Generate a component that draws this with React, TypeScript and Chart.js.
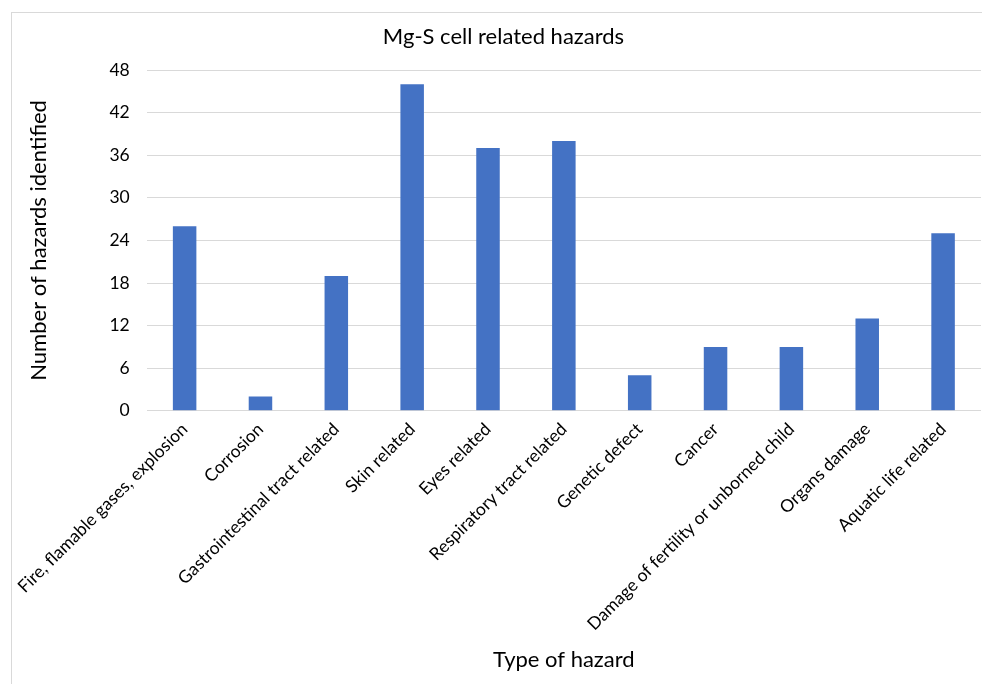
import React, { useEffect, useRef } from "react";
import { Chart, registerables } from "chart.js";

Chart.register(...registerables);

const categories = [
  "Fire, flamable gases, explosion",
  "Corrosion",
  "Gastrointestinal tract related",
  "Skin related",
  "Eyes related",
  "Respiratory tract related",
  "Genetic defect",
  "Cancer",
  "Damage of fertility or unborned child",
  "Organs damage",
  "Aquatic life related",
];
const hazardCounts = [26, 2, 19, 46, 37, 38, 5, 9, 9, 13, 25];
const yTicks = [0, 6, 12, 18, 24, 30, 36, 42, 48];

const FONT = "Lato, 'Liberation Sans', sans-serif";

export default function App() {
  const ref = useRef<HTMLCanvasElement | null>(null);
  useEffect(() => {
    if (!ref.current) return;
    const chart = new Chart(ref.current, {
      type: "bar",
      data: {
        labels: categories,
        datasets: [
          {
            label: "Hazards",
            data: hazardCounts,
            backgroundColor: "#4472C4",
            borderWidth: 0,
            categoryPercentage: 1,
            barPercentage: 0.31,
          },
        ],
      },
      options: {
        animation: false,
        responsive: false,
        maintainAspectRatio: false,
        layout: { padding: { left: 26, right: 27, top: 0, bottom: 11 } },
        plugins: {
          legend: { display: false },
          tooltip: { enabled: false },
          title: {
            display: true,
            text: "Mg-S cell related hazards",
            color: "#000",
            font: { family: FONT, size: 22, weight: "normal" },
            padding: { top: 24, bottom: 19.6 },
          },
        },
        scales: {
          x: {
            grid: { display: false, drawTicks: false },
            border: { display: false },
            ticks: {
              color: "#000",
              font: { family: FONT, size: 17.5 },
              maxRotation: 45,
              minRotation: 45,
              autoSkip: false,
              padding: 8,
            },
            title: {
              display: true,
              text: "Type of hazard",
              color: "#000",
              font: { family: FONT, size: 22 },
              padding: { top: 4, bottom: 0 },
            },
          },
          y: {
            min: 0,
            max: 48,
            afterBuildTicks: (axis: any) => {
              axis.ticks = yTicks.map((v) => ({ value: v }));
            },
            grid: { color: "#d9d9d9", lineWidth: 1, drawTicks: false },
            border: { display: false },
            ticks: {
              color: "#000",
              font: { family: FONT, size: 17.5 },
              padding: 17,
            },
            title: {
              display: true,
              text: "Number of hazards identified",
              color: "#000",
              font: { family: FONT, size: 22 },
              padding: { top: 0, bottom: 40 },
            },
          },
        },
      },
    });
    return () => chart.destroy();
  }, []);
  return (
    <div
      style={{
        position: "fixed",
        left: 0,
        top: 0,
        width: 982,
        height: 684,
        overflow: "hidden",
        background: "#fff",
      }}
    >
      <div
        style={{
          position: "absolute",
          left: 11,
          top: 12,
          width: 1000,
          height: 700,
          borderLeft: "1px solid #d9d9d9",
          borderTop: "1px solid #d9d9d9",
        }}
      />
      <canvas
        ref={ref}
        width={1008}
        height={684}
        style={{ position: "absolute", left: 0, top: 0, width: 1008, height: 684 }}
      />
    </div>
  );
}
